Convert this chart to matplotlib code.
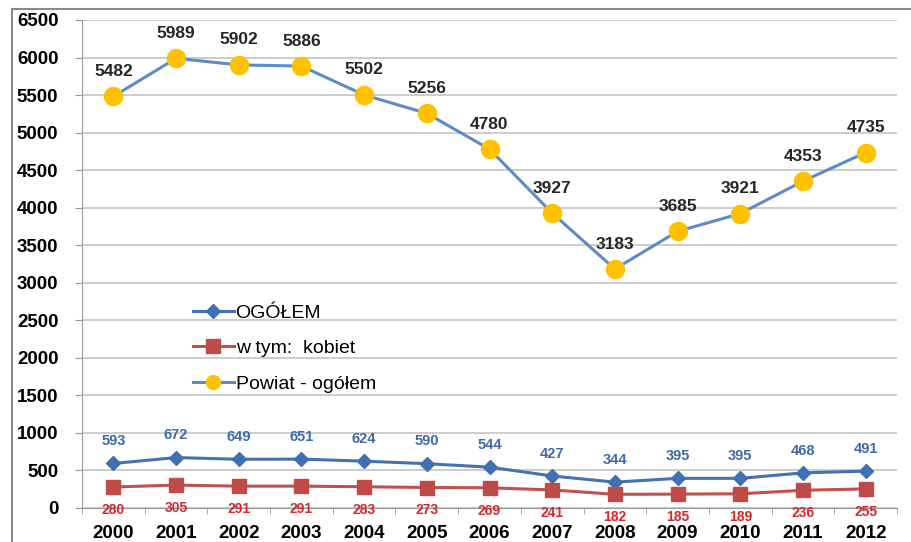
import matplotlib
matplotlib.use("Agg")
import matplotlib.pyplot as plt
from matplotlib.lines import Line2D

years = ["2000", "2001", "2002", "2003", "2004", "2005", "2006",
         "2007", "2008", "2009", "2010", "2011", "2012"]
ogolem = [593, 672, 649, 651, 624, 590, 544, 427, 344, 395, 395, 468, 491]
kobiet = [280, 305, 291, 291, 283, 273, 269, 241, 182, 185, 189, 236, 255]
powiat = [5482, 5989, 5902, 5886, 5502, 5256, 4780, 3927, 3183, 3685, 3921, 4353, 4735]
y_ticks = list(range(0, 6501, 500))

plt.rcParams["font.family"] = ["Liberation Sans", "DejaVu Sans"]

fig = plt.figure(figsize=(9.11, 5.42), dpi=100)
ax = fig.add_axes([82 / 911, 1 - 508 / 542, 815 / 911, 488 / 542])

x = list(range(len(years)))

ax.plot(x, powiat, color="#5B8CC8", lw=2.2, marker="o", ms=13,
        mfc="#FFC000", mec="#FFC000", zorder=4, label="Powiat - ogółem")
ax.plot(x, ogolem, color="#4472B0", lw=2.2, marker="D", ms=7,
        mfc="#3F6FB5", mec="#3F6FB5", zorder=4, label="OGÓŁEM")
ax.plot(x, kobiet, color="#C0504D", lw=2.2, marker="s", ms=10,
        mfc="#BE4B48", mec="#BE4B48", zorder=4, label="w tym:  kobiet")

for xi, v in zip(x, powiat):
    ax.annotate(str(v), (xi, v), xytext=(0, 18), textcoords="offset points",
                ha="center", va="center", fontsize=12.5, fontweight="bold",
                color="#262626")
for xi, v in zip(x, ogolem):
    ax.annotate(str(v), (xi, v), xytext=(0, 16), textcoords="offset points",
                ha="center", va="center", fontsize=10.5, fontweight="bold",
                color="#3F68A8")
for xi, v in zip(x, kobiet):
    ax.annotate(str(v), (xi, v), xytext=(0, -16.5), textcoords="offset points",
                ha="center", va="center", fontsize=10, fontweight="bold",
                color="#D02A2A")

ax.set_xlim(-0.5, len(years) - 0.5)
ax.set_ylim(0, 6500)
ax.set_yticks(y_ticks)
ax.set_yticklabels([str(t) for t in y_ticks], fontsize=13.5, fontweight="bold")
ax.set_xticks(x)
ax.set_xticklabels(years, fontsize=13.5, fontweight="bold")
ax.tick_params(axis="x", length=0, pad=12.5)
ax.tick_params(axis="y", length=5, color="#9a9a9a", pad=12)
ax.set_xticks([i + 0.5 for i in range(-1, len(years))], minor=True)
ax.tick_params(axis="x", which="minor", length=4, color="#9a9a9a")

ax.grid(axis="y", color="#c4c4c4", lw=1.2)
ax.set_axisbelow(True)
for side in ("top", "right"):
    ax.spines[side].set_visible(False)
ax.spines["left"].set_color("#9a9a9a")
ax.spines["bottom"].set_color("#9a9a9a")

handles = [
    Line2D([], [], color="#4472B0", lw=2.2, marker="D", ms=7,
           mfc="#3F6FB5", mec="#3F6FB5"),
    Line2D([], [], color="#C0504D", lw=2.2, marker="s", ms=10,
           mfc="#BE4B48", mec="#BE4B48"),
    Line2D([], [], color="#5B8CC8", lw=2.2, marker="o", ms=10,
           mfc="#FFC000", mec="#FFC000"),
]
labels = ["OGÓŁEM", "w tym:  kobiet", "Powiat - ogółem"]
ax.legend(handles, labels, loc="upper left", bbox_to_anchor=(0.124, 0.438),
          frameon=False, fontsize=14, labelspacing=0.93, handlelength=2.1,
          handletextpad=0.1, borderpad=0)

# thin outer frame on the top and left edges
fig.add_artist(Line2D([12 / 911, 1], [1 - 9 / 542, 1 - 9 / 542],
                      transform=fig.transFigure, color="#8a8a8a", lw=1.5))
fig.add_artist(Line2D([12 / 911, 12 / 911], [0, 1 - 9 / 542],
                      transform=fig.transFigure, color="#8a8a8a", lw=1.5))

fig.savefig("out.png", dpi=100)
